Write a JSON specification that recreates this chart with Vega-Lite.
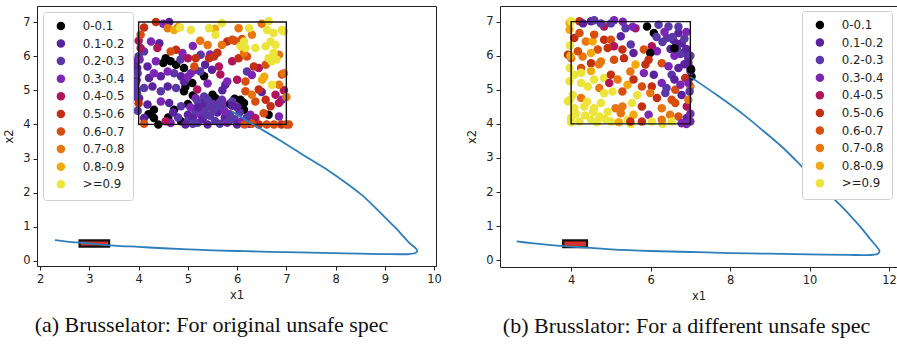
{
"$schema": "https://vega.github.io/schema/vega-lite/v6.json",
"padding": {"left": 3, "top": 5, "right": 0, "bottom": 0},
"background": "white",
"spacing": 24,
"config": {
"view": {"stroke": "#222", "strokeWidth": 1},
"axis": {"grid": false, "domain": false, "labelFont": "DejaVu Sans", "labelFontSize": 11.5, "labelColor": "#222", "tickColor": "#222", "tickSize": 4, "labelFlush": false, "labelPadding": 3, "titleFont": "DejaVu Sans", "titleFontSize": 11.5, "titleFontWeight": "normal", "titleColor": "#222"},
"axisX": {"titlePadding": 5},
"axisY": {"titlePadding": 8},
"legend": {"labelFont": "DejaVu Sans", "labelFontSize": 11.8, "labelColor": "#222", "symbolType": "circle", "symbolSize": 72, "symbolStrokeWidth": 0, "rowPadding": 4.6, "labelOffset": 16, "padding": 8, "symbolOffset": 4, "fillColor": "white", "strokeColor": "#d0d0d0", "cornerRadius": 3},
"title": {"font": "Liberation Serif", "fontSize": 22, "fontWeight": "normal", "color": "#111", "orient": "bottom", "offset": 14}
},
"resolve": {"scale": {"color": "independent"}, "legend": {"color": "independent"}},
"hconcat": [
{
"width": 399, "height": 260,
"title": {"text": "(a) Brusselator: For original unsafe spec", "orient": "bottom", "anchor": "middle", "dx": -25},
"encoding": {
"x": {"field": "x", "type": "quantitative", "scale": {"domain": [1.935, 10.04], "nice": false, "zero": false}, "axis": {"values": [2,3,4,5,6,7,8,9,10], "title": "x1"}},
"y": {"field": "y", "type": "quantitative", "scale": {"domain": [-0.15, 7.47], "nice": false, "zero": false}, "axis": {"values": [0,1,2,3,4,5,6,7], "title": "x2"}}
},
"layer": [
{
"data": {"values": [
{"x":4.55,"y":5.94,"c":"0-0.1"},{"x":4.65,"y":5.85,"c":"0-0.1"},{"x":4.76,"y":5.75,"c":"0-0.1"},{"x":4.5,"y":5.8,"c":"0-0.1"},{"x":4.92,"y":5.65,"c":"0-0.1"},{"x":5.33,"y":5.41,"c":"0-0.1"},{"x":4.92,"y":4.97,"c":"0-0.1"},{"x":5.09,"y":5.21,"c":"0-0.1"},{"x":5.5,"y":4.87,"c":"0-0.1"},{"x":4.31,"y":4.43,"c":"0-0.1"},{"x":4.72,"y":4.43,"c":"0-0.1"},{"x":4.31,"y":4.19,"c":"0-0.1"},{"x":4.86,"y":4.09,"c":"0-0.1"},{"x":6.07,"y":4.72,"c":"0-0.1"},{"x":6.14,"y":4.63,"c":"0-0.1"},{"x":5.56,"y":4.77,"c":"0-0.1"},{"x":6.14,"y":4.43,"c":"0-0.1"},{"x":6.64,"y":4.28,"c":"0-0.1"},{"x":5.0,"y":4.6,"c":"0-0.1"},{"x":4.4,"y":4.0,"c":"0-0.1"},{"x":5.3,"y":4.5,"c":"0-0.1"},{"x":5.6,"y":4.55,"c":"0-0.1"},{"x":5.85,"y":4.6,"c":"0-0.1"},{"x":4.95,"y":5.1,"c":"0-0.1"},{"x":4.2,"y":4.3,"c":"0-0.1"},{"x":5.95,"y":4.75,"c":"0-0.1"},{"x":4.6,"y":4.2,"c":"0-0.1"},{"x":5.1,"y":4.85,"c":"0-0.1"},
{"x":3.94,"y":5.85,"c":"0.1-0.2"},{"x":4.01,"y":4.77,"c":"0.1-0.2"},{"x":4.21,"y":5.36,"c":"0.1-0.2"},{"x":4.45,"y":5.41,"c":"0.1-0.2"},{"x":4.86,"y":5.41,"c":"0.1-0.2"},{"x":4.18,"y":5.7,"c":"0.1-0.2"},{"x":4.28,"y":5.11,"c":"0.1-0.2"},{"x":4.59,"y":5.11,"c":"0.1-0.2"},{"x":4.92,"y":5.26,"c":"0.1-0.2"},{"x":4.18,"y":4.58,"c":"0.1-0.2"},{"x":4.62,"y":4.63,"c":"0.1-0.2"},{"x":4.11,"y":4.19,"c":"0.1-0.2"},{"x":5.0,"y":4.28,"c":"0.1-0.2"},{"x":4.42,"y":6.38,"c":"0.1-0.2"},{"x":4.62,"y":7.0,"c":"0.1-0.2"},{"x":5.49,"y":5.6,"c":"0.1-0.2"},{"x":5.76,"y":5.16,"c":"0.1-0.2"},{"x":3.97,"y":5.65,"c":"0.1-0.2"},{"x":3.96,"y":5.3,"c":"0.1-0.2"},{"x":5.15,"y":5.6,"c":"0.1-0.2"},{"x":5.35,"y":5.75,"c":"0.1-0.2"},{"x":6.5,"y":4.95,"c":"0.1-0.2"},{"x":5.7,"y":5.0,"c":"0.1-0.2"},
{"x":3.98,"y":5.5,"c":"0.2-0.3"},{"x":3.94,"y":5.21,"c":"0.2-0.3"},{"x":4.11,"y":5.07,"c":"0.2-0.3"},{"x":4.72,"y":5.5,"c":"0.2-0.3"},{"x":4.11,"y":6.14,"c":"0.2-0.3"},{"x":4.45,"y":4.97,"c":"0.2-0.3"},{"x":4.76,"y":5.07,"c":"0.2-0.3"},{"x":5.33,"y":4.82,"c":"0.2-0.3"},{"x":4.86,"y":4.53,"c":"0.2-0.3"},{"x":5.26,"y":6.04,"c":"0.2-0.3"},{"x":5.9,"y":4.67,"c":"0.2-0.3"},{"x":5.69,"y":4.72,"c":"0.2-0.3"},{"x":4.0,"y":6.0,"c":"0.2-0.3"},{"x":3.97,"y":4.9,"c":"0.2-0.3"},{"x":3.96,"y":5.0,"c":"0.2-0.3"},{"x":3.98,"y":4.4,"c":"0.2-0.3"},{"x":3.95,"y":4.8,"c":"0.2-0.3"},{"x":5.25,"y":5.55,"c":"0.2-0.3"},{"x":6.2,"y":5.55,"c":"0.2-0.3"},{"x":4.85,"y":5.9,"c":"0.2-0.3"},
{"x":4.25,"y":6.43,"c":"0.3-0.4"},{"x":4.89,"y":6.09,"c":"0.3-0.4"},{"x":4.31,"y":5.5,"c":"0.3-0.4"},{"x":4.59,"y":5.55,"c":"0.3-0.4"},{"x":5.06,"y":5.5,"c":"0.3-0.4"},{"x":4.35,"y":5.85,"c":"0.3-0.4"},{"x":5.16,"y":4.77,"c":"0.3-0.4"},{"x":4.45,"y":4.67,"c":"0.3-0.4"},{"x":4.65,"y":4.04,"c":"0.3-0.4"},{"x":5.8,"y":5.26,"c":"0.3-0.4"},{"x":6.91,"y":4.72,"c":"0.3-0.4"},{"x":6.27,"y":4.28,"c":"0.3-0.4"},{"x":6.85,"y":4.23,"c":"0.3-0.4"},{"x":4.5,"y":6.95,"c":"0.3-0.4"},{"x":5.1,"y":6.3,"c":"0.3-0.4"},{"x":5.45,"y":6.05,"c":"0.3-0.4"},{"x":4.02,"y":5.9,"c":"0.3-0.4"},{"x":5.4,"y":5.2,"c":"0.3-0.4"},{"x":5.0,"y":5.4,"c":"0.3-0.4"},{"x":6.3,"y":5.45,"c":"0.3-0.4"},
{"x":5.0,"y":4.1,"c":"0.2-0.3"},{"x":5.1,"y":4.2,"c":"0.1-0.2"},{"x":5.2,"y":4.05,"c":"0.2-0.3"},{"x":5.25,"y":4.3,"c":"0.3-0.4"},{"x":5.3,"y":4.15,"c":"0.1-0.2"},{"x":5.35,"y":4.45,"c":"0.2-0.3"},{"x":5.4,"y":4.0,"c":"0.1-0.2"},{"x":5.45,"y":4.25,"c":"0.2-0.3"},{"x":5.5,"y":4.6,"c":"0.3-0.4"},{"x":5.55,"y":4.1,"c":"0.2-0.3"},{"x":5.6,"y":4.35,"c":"0.1-0.2"},{"x":5.65,"y":4.02,"c":"0.2-0.3"},{"x":5.7,"y":4.5,"c":"0.2-0.3"},{"x":5.75,"y":4.2,"c":"0.1-0.2"},{"x":5.8,"y":4.05,"c":"0.3-0.4"},{"x":5.85,"y":4.3,"c":"0.2-0.3"},{"x":5.9,"y":4.55,"c":"0.1-0.2"},{"x":5.95,"y":4.15,"c":"0.2-0.3"},{"x":6.0,"y":4.0,"c":"0.1-0.2"},{"x":6.05,"y":4.35,"c":"0.2-0.3"},{"x":6.1,"y":4.1,"c":"0.3-0.4"},{"x":6.2,"y":4.2,"c":"0.2-0.3"},{"x":6.25,"y":4.02,"c":"0.1-0.2"},{"x":5.15,"y":4.4,"c":"0.2-0.3"},{"x":5.3,"y":4.62,"c":"0.1-0.2"},{"x":5.55,"y":4.48,"c":"0.2-0.3"},{"x":5.05,"y":4.5,"c":"0.3-0.4"},{"x":5.4,"y":4.72,"c":"0.2-0.3"},{"x":5.7,"y":4.68,"c":"0.3-0.4"},{"x":5.2,"y":4.68,"c":"0.2-0.3"},{"x":6.0,"y":4.5,"c":"0.1-0.2"},{"x":5.45,"y":4.55,"c":"0.2-0.3"},{"x":5.65,"y":4.65,"c":"0.2-0.3"},{"x":4.95,"y":4.0,"c":"0.1-0.2"},{"x":5.1,"y":4.02,"c":"0.2-0.3"},{"x":5.35,"y":4.3,"c":"0.2-0.3"},{"x":5.75,"y":4.38,"c":"0.3-0.4"},{"x":5.2,"y":4.5,"c":"0.1-0.2"},{"x":5.5,"y":4.4,"c":"0.2-0.3"},{"x":5.85,"y":4.12,"c":"0.2-0.3"},{"x":4.8,"y":4.2,"c":"0.2-0.3"},{"x":4.7,"y":4.35,"c":"0.1-0.2"},
{"x":4.04,"y":6.24,"c":"0.4-0.5"},{"x":4.38,"y":6.24,"c":"0.4-0.5"},{"x":5.0,"y":5.94,"c":"0.4-0.5"},{"x":5.19,"y":5.02,"c":"0.4-0.5"},{"x":4.55,"y":4.09,"c":"0.4-0.5"},{"x":5.9,"y":5.85,"c":"0.4-0.5"},{"x":6.44,"y":5.65,"c":"0.4-0.5"},{"x":5.66,"y":5.46,"c":"0.4-0.5"},{"x":6.0,"y":5.31,"c":"0.4-0.5"},{"x":5.63,"y":5.7,"c":"0.4-0.5"},{"x":6.78,"y":4.87,"c":"0.4-0.5"},{"x":6.85,"y":4.63,"c":"0.4-0.5"},{"x":6.37,"y":4.19,"c":"0.4-0.5"},{"x":4.0,"y":6.45,"c":"0.4-0.5"},{"x":6.95,"y":5.0,"c":"0.4-0.5"},
{"x":4.11,"y":6.84,"c":"0.5-0.6"},{"x":4.35,"y":7.0,"c":"0.5-0.6"},{"x":4.76,"y":6.19,"c":"0.5-0.6"},{"x":5.16,"y":5.94,"c":"0.5-0.6"},{"x":5.43,"y":5.94,"c":"0.5-0.6"},{"x":5.8,"y":6.43,"c":"0.5-0.6"},{"x":5.53,"y":5.99,"c":"0.5-0.6"},{"x":6.03,"y":5.94,"c":"0.5-0.6"},{"x":6.34,"y":5.7,"c":"0.5-0.6"},{"x":6.44,"y":5.02,"c":"0.5-0.6"},{"x":6.58,"y":4.72,"c":"0.5-0.6"},{"x":6.68,"y":4.53,"c":"0.5-0.6"},{"x":6.44,"y":4.0,"c":"0.5-0.6"},{"x":6.9,"y":4.0,"c":"0.5-0.6"},{"x":5.6,"y":6.1,"c":"0.5-0.6"},{"x":4.0,"y":4.62,"c":"0.5-0.6"},
{"x":4.04,"y":6.63,"c":"0.6-0.7"},{"x":4.65,"y":6.14,"c":"0.6-0.7"},{"x":5.13,"y":5.7,"c":"0.6-0.7"},{"x":4.11,"y":4.02,"c":"0.6-0.7"},{"x":5.9,"y":6.48,"c":"0.6-0.7"},{"x":6.2,"y":5.99,"c":"0.6-0.7"},{"x":6.58,"y":5.75,"c":"0.6-0.7"},{"x":6.91,"y":5.46,"c":"0.6-0.7"},{"x":6.17,"y":5.26,"c":"0.6-0.7"},{"x":6.17,"y":4.97,"c":"0.6-0.7"},{"x":6.37,"y":4.67,"c":"0.6-0.7"},{"x":6.54,"y":4.33,"c":"0.6-0.7"},{"x":6.6,"y":4.0,"c":"0.6-0.7"},{"x":6.75,"y":4.0,"c":"0.6-0.7"},{"x":7.0,"y":4.0,"c":"0.6-0.7"},{"x":7.05,"y":4.0,"c":"0.6-0.7"},{"x":6.3,"y":4.02,"c":"0.6-0.7"},{"x":6.15,"y":4.0,"c":"0.6-0.7"},{"x":5.95,"y":6.45,"c":"0.6-0.7"},{"x":6.1,"y":6.5,"c":"0.6-0.7"},
{"x":4.59,"y":6.82,"c":"0.7-0.8"},{"x":5.4,"y":6.33,"c":"0.7-0.8"},{"x":6.03,"y":6.82,"c":"0.7-0.8"},{"x":6.3,"y":6.63,"c":"0.7-0.8"},{"x":5.69,"y":6.33,"c":"0.7-0.8"},{"x":6.14,"y":6.09,"c":"0.7-0.8"},{"x":6.85,"y":6.04,"c":"0.7-0.8"},{"x":6.3,"y":4.87,"c":"0.7-0.8"},{"x":6.85,"y":5.16,"c":"0.7-0.8"},{"x":5.25,"y":6.45,"c":"0.7-0.8"},{"x":4.8,"y":6.85,"c":"0.7-0.8"},{"x":6.5,"y":6.95,"c":"0.7-0.8"},{"x":6.95,"y":5.5,"c":"0.7-0.8"},{"x":7.0,"y":4.8,"c":"0.7-0.8"},
{"x":4.72,"y":6.77,"c":"0.8-0.9"},{"x":6.51,"y":5.31,"c":"0.8-0.9"},{"x":5.55,"y":6.8,"c":"0.8-0.9"},{"x":6.55,"y":5.4,"c":"0.8-0.9"},
{"x":4.84,"y":6.84,"c":">=0.9"},{"x":5.06,"y":6.77,"c":">=0.9"},{"x":5.43,"y":6.82,"c":">=0.9"},{"x":5.69,"y":6.97,"c":">=0.9"},{"x":6.24,"y":6.82,"c":">=0.9"},{"x":6.64,"y":7.02,"c":">=0.9"},{"x":6.61,"y":6.77,"c":">=0.9"},{"x":6.74,"y":6.68,"c":">=0.9"},{"x":6.91,"y":6.77,"c":">=0.9"},{"x":5.56,"y":6.63,"c":">=0.9"},{"x":6.07,"y":6.29,"c":">=0.9"},{"x":6.14,"y":6.43,"c":">=0.9"},{"x":6.17,"y":6.24,"c":">=0.9"},{"x":6.37,"y":6.24,"c":">=0.9"},{"x":6.58,"y":6.29,"c":">=0.9"},{"x":6.68,"y":6.43,"c":">=0.9"},{"x":6.78,"y":6.33,"c":">=0.9"},{"x":6.74,"y":6.09,"c":">=0.9"},{"x":6.64,"y":5.94,"c":">=0.9"},{"x":6.71,"y":5.16,"c":">=0.9"},{"x":6.95,"y":6.72,"c":">=0.9"},{"x":6.8,"y":5.9,"c":">=0.9"},{"x":6.7,"y":5.85,"c":">=0.9"}
]},
"mark": {"type": "circle", "size": 72, "opacity": 1},
"encoding": {"color": {"field": "c", "type": "nominal", "scale": {"domain": ["0-0.1","0.1-0.2","0.2-0.3","0.3-0.4","0.4-0.5","0.5-0.6","0.6-0.7","0.7-0.8","0.8-0.9",">=0.9"], "range": ["#000000","#5b22a0","#5a38a8","#7d26b5","#b0155c","#c42e12","#d84e0e","#e87510","#f4a90a","#ece43a"]}, "legend": {"title": null, "orient": "top-left", "offset": 6}}}
},
{
"data": {"values": [{"x": 4, "x2": 7, "y": 4, "y2": 7}]},
"mark": {"type": "rect", "fill": null, "fillOpacity": 0, "stroke": "#111", "strokeWidth": 1.4},
"encoding": {"x2": {"field": "x2"}, "y2": {"field": "y2"}}
},
{
"data": {"values": [{"x": 2.8, "x2": 3.4, "y": 0.42, "y2": 0.6}]},
"mark": {"type": "rect", "fill": "#d9302a", "stroke": "#111", "strokeWidth": 2.2},
"encoding": {"x2": {"field": "x2"}, "y2": {"field": "y2"}}
},
{
"data": {"values": [
{"t":0,"x":2.3,"y":0.61},{"t":1,"x":2.6,"y":0.56},{"t":2,"x":3.0,"y":0.51},{"t":3,"x":3.5,"y":0.45},{"t":4,"x":4.0,"y":0.41},{"t":5,"x":4.5,"y":0.37},{"t":6,"x":5.0,"y":0.34},{"t":7,"x":5.5,"y":0.31},{"t":8,"x":6.0,"y":0.29},{"t":9,"x":6.5,"y":0.27},{"t":10,"x":7.0,"y":0.255},{"t":11,"x":7.5,"y":0.24},{"t":12,"x":8.0,"y":0.225},{"t":13,"x":8.5,"y":0.21},{"t":14,"x":9.0,"y":0.2},{"t":15,"x":9.3,"y":0.195},{"t":16,"x":9.5,"y":0.2},{"t":17,"x":9.62,"y":0.23},{"t":18,"x":9.66,"y":0.29},{"t":19,"x":9.62,"y":0.38},{"t":20,"x":9.52,"y":0.5},{"t":21,"x":9.4,"y":0.68},{"t":22,"x":9.23,"y":0.95},{"t":23,"x":9.02,"y":1.25},{"t":24,"x":8.78,"y":1.6},{"t":25,"x":8.5,"y":1.97},{"t":26,"x":8.2,"y":2.3},{"t":27,"x":7.85,"y":2.65},{"t":28,"x":7.4,"y":3.05},{"t":29,"x":6.85,"y":3.55},{"t":30,"x":6.3,"y":4.02},{"t":31,"x":5.9,"y":4.38}
]},
"mark": {"type": "line", "color": "#2e7ebc", "strokeWidth": 1.8, "interpolate": "catmull-rom"},
"encoding": {"order": {"field": "t", "type": "quantitative"}}
}
]
},
{
"width": 397, "height": 261,
"title": {"text": "(b) Brusslator: For a different unsafe spec", "orient": "bottom", "anchor": "middle", "dx": -12},
"encoding": {
"x": {"field": "x", "type": "quantitative", "scale": {"domain": [2.21, 12.2], "nice": false, "zero": false}, "axis": {"values": [4,6,8,10,12], "title": "x1"}},
"y": {"field": "y", "type": "quantitative", "scale": {"domain": [-0.2, 7.46], "nice": false, "zero": false}, "axis": {"values": [0,1,2,3,4,5,6,7], "title": "x2"}}
},
"layer": [
{
"data": {"values": [
{"x":3.96,"y":6.96,"c":"0.8-0.9"},{"x":3.96,"y":6.76,"c":"0.8-0.9"},{"x":4.21,"y":7.01,"c":"0.5-0.6"},{"x":4.5,"y":7.01,"c":"0.1-0.2"},{"x":4.58,"y":7.04,"c":"0.2-0.3"},{"x":5.08,"y":7.04,"c":"0.3-0.4"},{"x":5.37,"y":6.81,"c":"0.2-0.3"},{"x":4.83,"y":6.86,"c":"0.4-0.5"},{"x":4.08,"y":6.52,"c":"0.5-0.6"},{"x":4.21,"y":6.67,"c":"0.6-0.7"},{"x":4.37,"y":6.42,"c":"0.7-0.8"},{"x":4.54,"y":6.42,"c":"0.8-0.9"},{"x":4.58,"y":6.62,"c":"0.6-0.7"},{"x":4.83,"y":6.47,"c":"0.5-0.6"},{"x":5.0,"y":6.47,"c":"0.6-0.7"},{"x":5.25,"y":6.57,"c":"0.1-0.2"},{"x":5.08,"y":6.28,"c":"0.4-0.5"},{"x":4.92,"y":6.23,"c":"0.5-0.6"},{"x":4.67,"y":6.18,"c":"0.6-0.7"},{"x":4.5,"y":6.08,"c":"0.8-0.9"},{"x":4.29,"y":5.98,"c":"0.7-0.8"},{"x":4.0,"y":5.93,"c":"0.7-0.8"},{"x":3.92,"y":6.03,"c":"0.5-0.6"},{"x":4.17,"y":6.13,"c":"0.6-0.7"},{"x":5.29,"y":6.18,"c":"0.5-0.6"},{"x":5.5,"y":6.33,"c":"0.2-0.3"},{"x":5.33,"y":5.93,"c":"0.5-0.6"},{"x":5.08,"y":5.88,"c":"0.6-0.7"},{"x":4.75,"y":5.83,"c":"0.7-0.8"},{"x":4.5,"y":5.78,"c":"0.5-0.6"},{"x":4.25,"y":5.64,"c":"0.6-0.7"},{"x":3.96,"y":5.64,"c":">=0.9"},{"x":4.08,"y":5.44,"c":">=0.9"},{"x":3.96,"y":5.25,"c":">=0.9"},{"x":4.25,"y":5.2,"c":">=0.9"},{"x":4.42,"y":5.1,"c":">=0.9"},{"x":4.58,"y":5.3,"c":">=0.9"},{"x":4.83,"y":5.35,"c":">=0.9"},{"x":4.71,"y":5.05,"c":"0.7-0.8"},{"x":5.0,"y":5.44,"c":"0.5-0.6"},{"x":4.96,"y":5.2,"c":"0.4-0.5"},{"x":5.17,"y":5.3,"c":"0.7-0.8"},{"x":5.42,"y":5.15,"c":"0.8-0.9"},{"x":5.29,"y":4.95,"c":"0.6-0.7"},{"x":5.04,"y":4.95,"c":">=0.9"},{"x":4.83,"y":4.9,"c":">=0.9"},{"x":4.04,"y":4.85,"c":">=0.9"},{"x":3.92,"y":4.66,"c":">=0.9"},{"x":4.25,"y":4.76,"c":"0.7-0.8"},{"x":4.08,"y":4.46,"c":">=0.9"},{"x":4.33,"y":4.51,"c":">=0.9"},{"x":4.58,"y":4.46,"c":">=0.9"},{"x":4.75,"y":4.61,"c":">=0.9"},{"x":4.92,"y":4.36,"c":">=0.9"},{"x":5.12,"y":4.46,"c":"0.7-0.8"},{"x":5.25,"y":4.31,"c":"0.7-0.8"},{"x":5.29,"y":4.51,"c":"0.7-0.8"},{"x":4.0,"y":4.17,"c":">=0.9"},{"x":4.21,"y":4.07,"c":">=0.9"},{"x":4.5,"y":4.12,"c":">=0.9"},{"x":4.71,"y":4.22,"c":">=0.9"},{"x":5.0,"y":4.07,"c":">=0.9"},{"x":5.42,"y":4.12,"c":">=0.9"},{"x":4.0,"y":7.01,"c":">=0.9"},
{"x":3.97,"y":6.3,"c":">=0.9"},{"x":3.98,"y":6.0,"c":"0.8-0.9"},{"x":4.0,"y":4.05,"c":">=0.9"},{"x":4.12,"y":4.3,"c":">=0.9"},{"x":4.35,"y":4.25,"c":">=0.9"},{"x":4.55,"y":4.35,"c":">=0.9"},{"x":4.85,"y":4.15,"c":">=0.9"},{"x":5.5,"y":4.0,"c":">=0.9"},{"x":5.2,"y":4.05,"c":"0.8-0.9"},{"x":6.3,"y":4.0,"c":">=0.9"},{"x":4.25,"y":5.5,"c":">=0.9"},{"x":4.5,"y":5.55,"c":"0.8-0.9"},{"x":4.7,"y":5.75,"c":"0.7-0.8"},{"x":3.97,"y":4.7,"c":">=0.9"},{"x":4.65,"y":4.05,"c":">=0.9"},{"x":4.4,"y":4.65,"c":">=0.9"},
{"x":5.91,"y":6.86,"c":"0-0.1"},{"x":6.08,"y":6.67,"c":"0-0.1"},{"x":5.62,"y":6.81,"c":"0.4-0.5"},{"x":6.2,"y":6.91,"c":"0.2-0.3"},{"x":6.45,"y":6.86,"c":"0.2-0.3"},{"x":6.7,"y":6.67,"c":"0.1-0.2"},{"x":6.41,"y":6.52,"c":"0.2-0.3"},{"x":6.57,"y":6.47,"c":"0.1-0.2"},{"x":6.78,"y":6.37,"c":"0.1-0.2"},{"x":6.03,"y":6.28,"c":"0.4-0.5"},{"x":5.83,"y":6.18,"c":"0.6-0.7"},{"x":6.16,"y":6.13,"c":"0.3-0.4"},{"x":5.99,"y":6.08,"c":"0-0.1"},{"x":6.66,"y":6.23,"c":"0.2-0.3"},{"x":6.82,"y":6.08,"c":"0.2-0.3"},{"x":6.95,"y":5.93,"c":"0.1-0.2"},{"x":7.0,"y":5.64,"c":"0.2-0.3"},{"x":7.03,"y":5.39,"c":"0-0.1"},{"x":5.57,"y":6.08,"c":"0.1-0.2"},{"x":5.62,"y":5.74,"c":"0.8-0.9"},{"x":5.49,"y":5.54,"c":"0.7-0.8"},{"x":5.87,"y":5.74,"c":"0.5-0.6"},{"x":5.95,"y":5.88,"c":"0.5-0.6"},{"x":6.28,"y":5.78,"c":"0.6-0.7"},{"x":6.45,"y":5.69,"c":"0.3-0.4"},{"x":6.7,"y":5.64,"c":"0.1-0.2"},{"x":6.53,"y":5.44,"c":"0.2-0.3"},{"x":6.87,"y":5.35,"c":"0.5-0.6"},{"x":7.0,"y":5.1,"c":"0.7-0.8"},{"x":5.83,"y":5.49,"c":"0.3-0.4"},{"x":6.08,"y":5.44,"c":"0.1-0.2"},{"x":5.57,"y":5.3,"c":"0.5-0.6"},{"x":5.78,"y":5.1,"c":"0.6-0.7"},{"x":6.03,"y":5.1,"c":"0.5-0.6"},{"x":6.28,"y":5.2,"c":"0.3-0.4"},{"x":6.37,"y":4.91,"c":"0.2-0.3"},{"x":6.62,"y":5.0,"c":"0.6-0.7"},{"x":6.78,"y":4.85,"c":"0.1-0.2"},{"x":5.66,"y":4.85,"c":">=0.9"},{"x":5.99,"y":4.91,"c":"0.7-0.8"},{"x":6.16,"y":4.76,"c":"0.5-0.6"},{"x":6.53,"y":4.71,"c":"0.6-0.7"},{"x":6.62,"y":4.61,"c":"0.6-0.7"},{"x":6.91,"y":4.51,"c":"0.4-0.5"},{"x":6.95,"y":4.71,"c":"0.7-0.8"},{"x":5.53,"y":4.61,"c":">=0.9"},{"x":5.78,"y":4.51,"c":"0.5-0.6"},{"x":6.28,"y":4.46,"c":"0.7-0.8"},{"x":5.57,"y":4.27,"c":"0.8-0.9"},{"x":5.95,"y":4.27,"c":"0.3-0.4"},{"x":6.49,"y":4.27,"c":"0.7-0.8"},{"x":6.7,"y":4.22,"c":"0.6-0.7"},{"x":6.91,"y":4.17,"c":"0.1-0.2"},{"x":7.0,"y":4.07,"c":"0.3-0.4"},{"x":5.78,"y":4.07,"c":"0.5-0.6"},{"x":6.03,"y":4.07,"c":">=0.9"},{"x":6.28,"y":4.12,"c":"0.7-0.8"},{"x":6.53,"y":4.07,"c":">=0.9"},{"x":6.78,"y":4.02,"c":"0.3-0.4"},{"x":5.49,"y":4.07,"c":"0.5-0.6"},
{"x":6.55,"y":6.55,"c":"0.2-0.3"},{"x":6.65,"y":6.35,"c":"0.1-0.2"},{"x":6.85,"y":6.5,"c":"0.2-0.3"},{"x":6.9,"y":6.2,"c":"0.1-0.2"},{"x":6.75,"y":6.05,"c":"0.2-0.3"},{"x":6.6,"y":6.0,"c":"0.3-0.4"},{"x":7.0,"y":6.0,"c":"0.2-0.3"},{"x":6.95,"y":5.8,"c":"0.1-0.2"},{"x":7.0,"y":5.55,"c":"0.2-0.3"},{"x":6.85,"y":5.75,"c":"0.1-0.2"},{"x":6.3,"y":6.4,"c":"0.2-0.3"},{"x":6.5,"y":6.2,"c":"0.1-0.2"},{"x":6.9,"y":6.7,"c":"0.3-0.4"},{"x":6.7,"y":6.85,"c":"0.2-0.3"},{"x":6.35,"y":6.7,"c":"0.3-0.4"},{"x":6.15,"y":6.55,"c":"0.2-0.3"},{"x":6.95,"y":5.2,"c":"0.3-0.4"},{"x":6.98,"y":4.95,"c":"0.2-0.3"},{"x":7.02,"y":5.6,"c":"0-0.1"},{"x":6.6,"y":5.3,"c":"0.1-0.2"},{"x":6.4,"y":5.05,"c":"0.2-0.3"},{"x":6.75,"y":5.15,"c":"0.3-0.4"},{"x":7.0,"y":4.3,"c":"0.3-0.4"},{"x":6.9,"y":4.0,"c":"0.3-0.4"},{"x":6.6,"y":6.22,"c":"0-0.1"},{"x":4.3,"y":6.95,"c":"0.1-0.2"},{"x":4.75,"y":6.95,"c":"0.2-0.3"},{"x":5.3,"y":7.0,"c":"0.3-0.4"},{"x":5.55,"y":6.85,"c":"0.3-0.4"},{"x":5.0,"y":6.95,"c":"0.2-0.3"}
]},
"mark": {"type": "circle", "size": 72, "opacity": 1},
"encoding": {"color": {"field": "c", "type": "nominal", "scale": {"domain": ["0-0.1","0.1-0.2","0.2-0.3","0.3-0.4","0.4-0.5","0.5-0.6","0.6-0.7","0.7-0.8","0.8-0.9",">=0.9"], "range": ["#000000","#5b22a0","#5a38a8","#7d26b5","#b0155c","#c42e12","#d84e0e","#e87510","#f4a90a","#ece43a"]}, "legend": {"title": null, "orient": "top-right", "offset": 5}}}
},
{
"data": {"values": [{"x": 4, "x2": 7, "y": 4, "y2": 7}]},
"mark": {"type": "rect", "fill": null, "fillOpacity": 0, "stroke": "#111", "strokeWidth": 1.4},
"encoding": {"x2": {"field": "x2"}, "y2": {"field": "y2"}}
},
{
"data": {"values": [{"x": 3.8, "x2": 4.4, "y": 0.38, "y2": 0.58}]},
"mark": {"type": "rect", "fill": "#d9302a", "stroke": "#111", "strokeWidth": 2.2},
"encoding": {"x2": {"field": "x2"}, "y2": {"field": "y2"}}
},
{
"data": {"values": [
{"t":0,"x":2.63,"y":0.55},{"t":1,"x":3.0,"y":0.5},{"t":2,"x":3.5,"y":0.44},{"t":3,"x":4.0,"y":0.4},{"t":4,"x":4.5,"y":0.36},{"t":5,"x":5.0,"y":0.32},{"t":6,"x":6.0,"y":0.27},{"t":7,"x":7.0,"y":0.24},{"t":8,"x":8.0,"y":0.21},{"t":9,"x":9.0,"y":0.19},{"t":10,"x":10.0,"y":0.17},{"t":11,"x":11.0,"y":0.155},{"t":12,"x":11.4,"y":0.15},{"t":13,"x":11.6,"y":0.16},{"t":14,"x":11.72,"y":0.19},{"t":15,"x":11.76,"y":0.26},{"t":16,"x":11.7,"y":0.38},{"t":17,"x":11.54,"y":0.6},{"t":18,"x":11.3,"y":0.95},{"t":19,"x":11.0,"y":1.34},{"t":20,"x":10.7,"y":1.7},{"t":21,"x":10.33,"y":2.13},{"t":22,"x":9.83,"y":2.72},{"t":23,"x":9.33,"y":3.3},{"t":24,"x":8.83,"y":3.8},{"t":25,"x":8.33,"y":4.28},{"t":26,"x":7.65,"y":4.86},{"t":27,"x":7.0,"y":5.38}
]},
"mark": {"type": "line", "color": "#2e7ebc", "strokeWidth": 1.8, "interpolate": "catmull-rom"},
"encoding": {"order": {"field": "t", "type": "quantitative"}}
}
]
}
]
}
